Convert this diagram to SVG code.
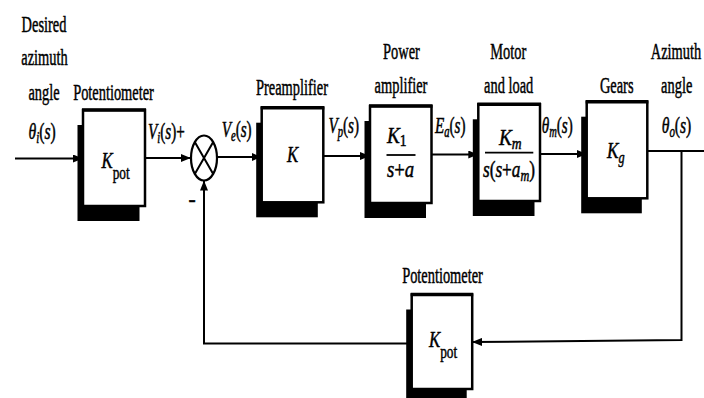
<svg xmlns="http://www.w3.org/2000/svg" width="704" height="398" viewBox="0 0 704 398">
<style>
text { font-family: "Liberation Serif", "DejaVu Serif", "Times New Roman", serif; fill: #000; stroke: #000; stroke-width: 0.5; }
.lb { font-size: 24px; }
.mt { font-size: 23px; font-style: italic; }
.bx { font-size: 24px; font-style: italic; }
.up { font-style: normal; }
.shadow { fill: #000; }
.box { fill: #fff; stroke: #000; stroke-width: 2.5; }
.top { stroke: #000; stroke-width: 3.5; }
.ln { fill: none; stroke: #000; stroke-width: 2; }
</style>
<defs>
<marker id="ah" markerWidth="10" markerHeight="8" refX="10" refY="4" orient="auto" markerUnits="userSpaceOnUse">
<path d="M0,0 L10,4 L0,8 z" fill="#000"/>
</marker>
</defs>

<g id="connectors">
<path class="ln" d="M15,158.5 H83" marker-end="url(#ah)"/>
<path class="ln" d="M145,158 H190.7" marker-end="url(#ah)"/>
<path class="ln" d="M217,157 H261.7" marker-end="url(#ah)"/>
<path class="ln" d="M323.3,156 H370" marker-end="url(#ah)"/>
<path class="ln" d="M431.7,154.5 H478.3" marker-end="url(#ah)"/>
<path class="ln" d="M540,154 H586.7" marker-end="url(#ah)"/>
<path class="ln" d="M647.3,151 H704"/>
<path class="ln" d="M681.5,151 V340 L472,342" marker-end="url(#ah)"/>
<path class="ln" d="M411.7,343.5 H204 V180.5" marker-end="url(#ah)"/>
</g>

<g id="input-label">
<text class="lb" transform="translate(44,32) scale(0.6,1)" text-anchor="middle">Desired</text>
<text class="lb" transform="translate(44.5,65) scale(0.6,1)" text-anchor="middle">azimuth</text>
<text class="lb" transform="translate(44,100) scale(0.6,1)" text-anchor="middle">angle</text>
<text class="mt" transform="translate(28.5,139) scale(0.68,1)">θ<tspan font-size="16" dy="4">i</tspan><tspan class="up" dy="-4">(</tspan>s<tspan class="up">)</tspan></text>
</g>

<g id="pot1">
<rect class="shadow" x="77.5" y="125" width="62" height="96"/>
<rect class="box" x="83" y="110" width="62" height="96"/>
<line class="top" x1="82" y1="110" x2="146" y2="110"/>
<text class="lb" transform="translate(113.5,100) scale(0.6,1)" text-anchor="middle">Potentiometer</text>
<text class="bx" transform="translate(101.5,168) scale(0.7,1)">K<tspan class="up" font-size="19" dy="11">pot</tspan></text>
</g>

<g id="vi-label">
<text class="mt" transform="translate(148,139) scale(0.66,1)">V<tspan font-size="16" dy="4">i</tspan><tspan class="up" dy="-4">(</tspan>s<tspan class="up">)+</tspan></text>
</g>

<g id="summing">
<ellipse cx="204" cy="158" rx="13" ry="22.5" fill="#fff" stroke="#000" stroke-width="2.2"/>
<path class="ln" d="M194.8,142.1 L213.2,173.9 M213.2,142.1 L194.8,173.9"/>
<text class="lb" transform="translate(192,207) scale(0.9,1)" text-anchor="middle">-</text>
</g>

<g id="ve-label">
<text class="mt" transform="translate(221.7,136.7) scale(0.66,1)">V<tspan font-size="16" dy="4">e</tspan><tspan class="up" dy="-4">(</tspan>s<tspan class="up">)</tspan></text>
</g>

<g id="preamp">
<rect class="shadow" x="256.2" y="122.7" width="61.6" height="94.6"/>
<rect class="box" x="261.7" y="107.7" width="61.6" height="94.6"/>
<line class="top" x1="260.7" y1="107.7" x2="324.3" y2="107.7"/>
<text class="lb" transform="translate(292,95) scale(0.6,1)" text-anchor="middle">Preamplifier</text>
<text class="bx" transform="translate(292.5,161.7) scale(0.7,1)" text-anchor="middle">K</text>
</g>

<g id="vp-label">
<text class="mt" transform="translate(328.5,133.3) scale(0.66,1)">V<tspan font-size="16" dy="4">p</tspan><tspan class="up" dy="-4">(</tspan>s<tspan class="up">)</tspan></text>
</g>

<g id="poweramp">
<rect class="shadow" x="364.5" y="121" width="61.5" height="97"/>
<rect class="box" x="370" y="106" width="61.5" height="97"/>
<line class="top" x1="369" y1="106" x2="432.5" y2="106"/>
<text class="lb" transform="translate(401.5,59.3) scale(0.6,1)" text-anchor="middle">Power</text>
<text class="lb" transform="translate(401,93.3) scale(0.6,1)" text-anchor="middle">amplifier</text>
<text class="bx" transform="translate(387,143.3) scale(0.8,1)">K<tspan class="up" font-size="17" dy="3">1</tspan></text>
<line x1="386.5" y1="155" x2="415.5" y2="155" stroke="#000" stroke-width="1.8"/>
<text class="bx" transform="translate(400.5,176.7) scale(0.78,1)" text-anchor="middle">s<tspan class="up">+</tspan>a</text>
</g>

<g id="ea-label">
<text class="mt" transform="translate(435,133.3) scale(0.66,1)">E<tspan font-size="16" dy="4">a</tspan><tspan class="up" dy="-4">(</tspan>s<tspan class="up">)</tspan></text>
</g>

<g id="motor">
<rect class="shadow" x="472.8" y="119.3" width="61.7" height="96.7"/>
<rect class="box" x="478.3" y="104.3" width="61.7" height="96.7"/>
<line class="top" x1="477.3" y1="104.3" x2="541" y2="104.3"/>
<text class="lb" transform="translate(508.3,59.3) scale(0.6,1)" text-anchor="middle">Motor</text>
<text class="lb" transform="translate(508.7,92.7) scale(0.6,1)" text-anchor="middle">and load</text>
<text class="bx" transform="translate(499,145) scale(0.8,1)">K<tspan font-size="17" dy="4">m</tspan></text>
<line x1="485" y1="152.7" x2="533.3" y2="152.7" stroke="#000" stroke-width="1.8"/>
<text class="bx" transform="translate(509,176.7) scale(0.72,1)" text-anchor="middle">s<tspan class="up">(</tspan>s<tspan class="up">+</tspan>a<tspan font-size="17" dy="4">m</tspan><tspan class="up" dy="-4">)</tspan></text>
</g>

<g id="thetam-label">
<text class="mt" transform="translate(541.7,133.3) scale(0.66,1)">θ<tspan font-size="16" dy="4">m</tspan><tspan class="up" dy="-4">(</tspan>s<tspan class="up">)</tspan></text>
</g>

<g id="gears">
<rect class="shadow" x="581.2" y="116.7" width="60.6" height="96.6"/>
<rect class="box" x="586.7" y="101.7" width="60.6" height="96.6"/>
<line class="top" x1="585.7" y1="101.7" x2="648.3" y2="101.7"/>
<text class="lb" transform="translate(616.7,92.7) scale(0.6,1)" text-anchor="middle">Gears</text>
<text class="bx" transform="translate(607,158.3) scale(0.72,1)">K<tspan font-size="17" dy="5">g</tspan></text>
</g>

<g id="output-label">
<text class="lb" transform="translate(676,59.3) scale(0.6,1)" text-anchor="middle">Azimuth</text>
<text class="lb" transform="translate(676.7,92.7) scale(0.6,1)" text-anchor="middle">angle</text>
<text class="mt" transform="translate(661.7,133.3) scale(0.68,1)">θ<tspan font-size="16" dy="4">o</tspan><tspan class="up" dy="-4">(</tspan>s<tspan class="up">)</tspan></text>
</g>

<g id="pot2">
<rect class="shadow" x="406.2" y="309.5" width="60.5" height="94.5"/>
<rect class="box" x="411.7" y="294.5" width="60.5" height="94.5"/>
<line class="top" x1="410.7" y1="294.5" x2="473.2" y2="294.5"/>
<text class="lb" transform="translate(442.5,283.3) scale(0.6,1)" text-anchor="middle">Potentiometer</text>
<text class="bx" transform="translate(429,346.7) scale(0.7,1)">K<tspan class="up" font-size="19" dy="11">pot</tspan></text>
</g>
</svg>
